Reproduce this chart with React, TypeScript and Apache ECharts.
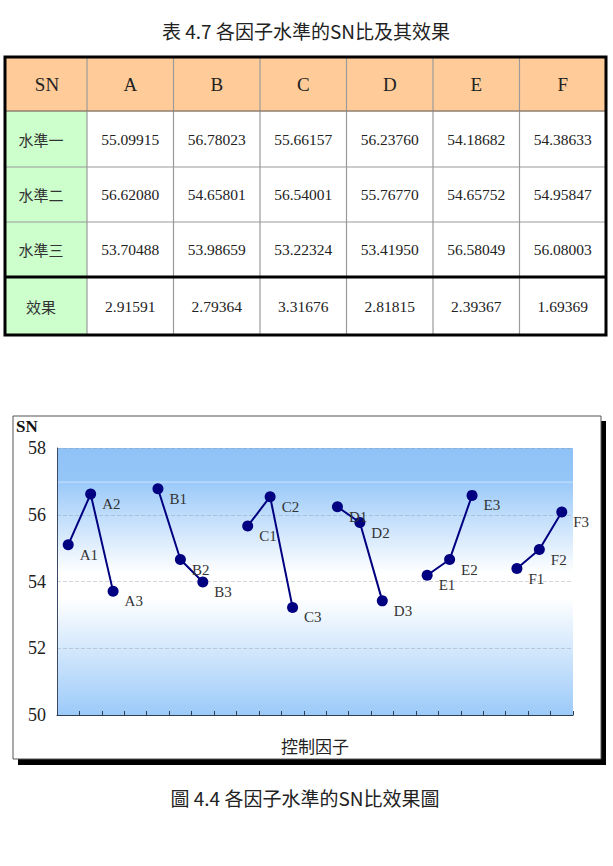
import React, { useEffect, useRef } from "react";
import * as echarts from "echarts";

const factors = ["A", "B", "C", "D", "E", "F"];
const level1 = [55.09915, 56.78023, 55.66157, 56.2376, 54.18682, 54.38633];
const level2 = [56.6208, 54.65801, 56.54001, 55.7677, 54.65752, 54.95847];
const level3 = [53.70488, 53.98659, 53.22324, 53.4195, 56.58049, 56.08003];
const effect = [2.91591, 2.79364, 3.31676, 2.81815, 2.39367, 1.69369];
const rowLabels = ["水準一", "水準二", "水準三", "效果"];
const tableTitle = "表 4.7 各因子水準的SN比及其效果";
const chartCaption = "圖 4.4 各因子水準的SN比效果圖";
const xAxisTitle = "控制因子";
const yAxisTitle = "SN";
const yMin = 50;
const yMax = 58;
const yStep = 2;

const SERIF = "'Liberation Serif', 'Times New Roman', serif";
const CJK = "'Noto Sans CJK TC', 'Noto Sans CJK SC', sans-serif";

function buildCategories() {
  const cats: string[] = [];
  const vals: (number | null)[] = [];
  factors.forEach((f, i) => {
    const lv = [level1[i], level2[i], level3[i]];
    lv.forEach((v, j) => {
      cats.push(f + (j + 1));
      vals.push(v);
    });
    if (i < factors.length - 1) {
      cats.push("gap" + i);
      vals.push(null);
    }
  });
  return { cats, vals };
}

function buildTable(): any[] {
  const els: any[] = [];
  const L = 5;
  const R = 606;
  const firstColR = 87;
  const colW = (R - firstColR) / factors.length;
  const rows = [57, 111, 167, 222, 277, 335];
  els.push({ type: "rect", shape: { x: L, y: rows[0], width: R - L, height: rows[1] - rows[0] }, style: { fill: "#FFCC99" } });
  els.push({ type: "rect", shape: { x: L, y: rows[1], width: firstColR - L, height: rows[5] - rows[1] }, style: { fill: "#CCFFCC" } });
  for (let k = 0; k < factors.length; k++) {
    const x = firstColR + k * colW;
    els.push({ type: "line", shape: { x1: x, y1: rows[0], x2: x, y2: rows[5] }, style: { stroke: "#9a9a9a", lineWidth: 1.2 } });
  }
  els.push({ type: "line", shape: { x1: L, y1: rows[1], x2: R, y2: rows[1] }, style: { stroke: "#8f7f70", lineWidth: 1.5 } });
  els.push({ type: "line", shape: { x1: L, y1: rows[2], x2: R, y2: rows[2] }, style: { stroke: "#9a9a9a", lineWidth: 1.2 } });
  els.push({ type: "line", shape: { x1: L, y1: rows[3], x2: R, y2: rows[3] }, style: { stroke: "#9a9a9a", lineWidth: 1.2 } });
  els.push({ type: "line", shape: { x1: L, y1: rows[4], x2: R, y2: rows[4] }, style: { stroke: "#000", lineWidth: 3 } });
  els.push({ type: "rect", shape: { x: L, y: rows[0], width: R - L, height: rows[5] - rows[0] }, style: { fill: "none", stroke: "#000", lineWidth: 3 } });

  const txt = (text: string, x: number, y: number, font: string, size: number, color = "#222") => ({
    type: "text",
    style: {
      text, x, y, fill: color, fontSize: size, fontFamily: font,
      textAlign: "center", textVerticalAlign: "middle", align: "center", verticalAlign: "middle",
    },
  });
  const cy = (r: number) => (rows[r] + rows[r + 1]) / 2;
  els.push(txt("SN", (L + firstColR) / 2 + 1, cy(0), SERIF, 19));
  factors.forEach((f, i) => {
    const cx = firstColR + colW * (i + 0.5);
    els.push(txt(f, cx, cy(0), SERIF, 19));
    els.push(txt(level1[i].toFixed(5), cx, cy(1), SERIF, 15.5));
    els.push(txt(level2[i].toFixed(5), cx, cy(2), SERIF, 15.5));
    els.push(txt(level3[i].toFixed(5), cx, cy(3), SERIF, 15.5));
    els.push(txt(effect[i].toFixed(5), cx, cy(4), SERIF, 15.5));
  });
  rowLabels.forEach((r, j) => {
    els.push(txt(r, 41, cy(j + 1), CJK, 15, "#333"));
  });
  els.push(txt(tableTitle, 306, 30, CJK, 19, "#222"));
  return els;
}

export default function App() {
  const ref = useRef<HTMLDivElement>(null);
  useEffect(() => {
    document.body.style.margin = "0";
    if (!ref.current) return;
    const chart = echarts.init(ref.current, undefined, { renderer: "svg" });
    const { cats, vals } = buildCategories();

    const bg = new echarts.graphic.LinearGradient(0, 0, 0, 1, [
      { offset: 0, color: "#8FC2F6" },
      { offset: 0.124, color: "#95C6F8" },
      { offset: 0.127, color: "#C6E1FC" },
      { offset: 0.133, color: "#9CCAF9" },
      { offset: 0.47, color: "#FFFFFF" },
      { offset: 0.56, color: "#FFFFFF" },
      { offset: 1, color: "#9CCAF9" },
    ]);

    const option: any = {
      animation: false,
      backgroundColor: "#fff",
      grid: {
        left: 57,
        right: 613 - 573,
        top: 448,
        bottom: 866 - 715,
        show: true,
        backgroundColor: bg,
        borderWidth: 0,
      },
      xAxis: {
        type: "category",
        data: cats,
        boundaryGap: true,
        name: xAxisTitle,
        nameLocation: "middle",
        nameGap: 22,
        nameTextStyle: { fontFamily: CJK, fontSize: 17, color: "#222" },
        axisLine: { show: true, lineStyle: { color: "#2f3d55", width: 1.2 } },
        axisTick: { show: true, inside: true, length: 4, interval: 0, lineStyle: { color: "#2f3d55" } },
        axisLabel: { show: false },
        splitLine: { show: false },
      },
      yAxis: {
        type: "value",
        min: yMin,
        max: yMax,
        interval: yStep,
        axisLine: { show: true, lineStyle: { color: "#3a4a66", width: 1 } },
        axisTick: { show: false },
        axisLabel: { fontFamily: SERIF, fontSize: 18, color: "#222", margin: 11 },
        splitLine: { show: true, lineStyle: { color: "rgba(140,150,170,0.4)", type: "dashed", width: 1 } },
      },
      graphic: [
        { type: "rect", z: -10, shape: { x: 18, y: 421, width: 588, height: 344 }, style: { fill: "#000" } },
        { type: "rect", z: -9, shape: { x: 13, y: 416, width: 588, height: 343 }, style: { fill: "#fff", stroke: "#555", lineWidth: 1 } },
        {
          type: "text",
          style: { text: yAxisTitle, x: 16, y: 426, fill: "#111", fontSize: 17, fontWeight: "bold", fontFamily: SERIF, textVerticalAlign: "middle", verticalAlign: "middle" },
        },
        {
          type: "text",
          style: {
            text: chartCaption, x: 305, y: 797, fill: "#222", fontSize: 19, fontFamily: CJK,
            textAlign: "center", textVerticalAlign: "middle", align: "center", verticalAlign: "middle",
          },
        },
        ...buildTable(),
      ],
      series: [
        {
          type: "line",
          data: vals,
          connectNulls: false,
          symbol: "circle",
          symbolSize: 11,
          itemStyle: { color: "#000080" },
          lineStyle: { color: "#000080", width: 2 },
          label: {
            show: true,
            position: "right",
            distance: 6,
            offset: [0, 10],
            formatter: (p: any) => p.name,
            fontFamily: SERIF,
            fontSize: 15,
            color: "#333",
          },
        },
      ],
    };
    chart.setOption(option);
    return () => chart.dispose();
  }, []);
  return <div ref={ref} style={{ width: 613, height: 866 }} />;
}
